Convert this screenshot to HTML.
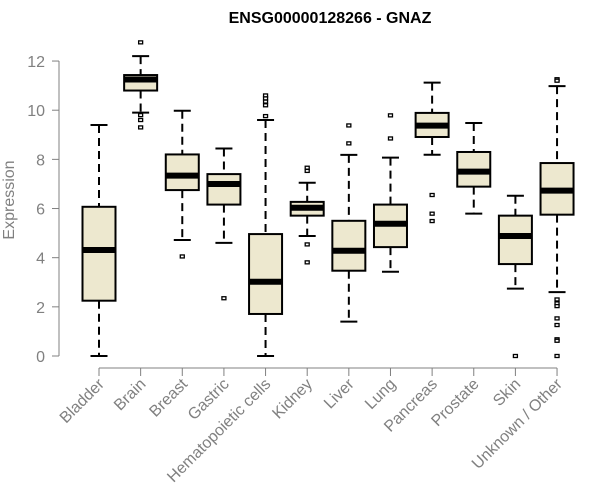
<!DOCTYPE html>
<html><head><meta charset="utf-8"><style>
body{margin:0;background:#fff}
svg{display:block;font-family:"Liberation Sans",sans-serif}
</style></head><body>
<svg id="chart" width="600" height="500">
<text x="330" y="23" text-anchor="middle" font-size="16" font-weight="bold" fill="#000">ENSG00000128266 - GNAZ</text>
<text transform="translate(14,200) rotate(-90)" text-anchor="middle" font-size="16" fill="#808080">Expression</text>
<g id="yaxis"></g>
<g id="xaxis"></g>
<g id="boxes"></g>
</svg>
<script>
const categories=["Bladder","Brain","Breast","Gastric","Hematopoietic cells","Kidney","Liver","Lung","Pancreas","Prostate","Skin","Unknown / Other"];
const lowerWhisker=[0,9.9,4.72,4.6,0,4.88,1.4,3.43,8.19,5.79,2.74,2.6];
const q1=[2.25,10.8,6.75,6.16,1.71,5.71,3.47,4.43,8.91,6.89,3.74,5.75];
const medians=[4.31,11.25,7.34,7.0,3.02,6.03,4.28,5.38,9.37,7.5,4.88,6.73];
const q3=[6.07,11.43,8.2,7.4,4.96,6.27,5.5,6.16,9.89,8.3,5.71,7.85];
const upperWhisker=[9.4,12.2,9.98,8.44,9.6,7.05,8.18,8.07,11.12,9.48,6.52,10.98];
const outliers=[[],[12.76,9.8,9.6,9.3],[4.05],[2.35],[10.6,10.48,10.35,10.2,9.76],[7.66,7.53,4.54,3.81],[9.38,8.65],[9.79,8.85],[6.55,5.79,5.49],[],[0],[11.26,11.2,2.3,2.14,2.03,1.53,1.26,0.68,0.62,0]];
const yTicks=[0,2,4,6,8,10,12];
const NS="http://www.w3.org/2000/svg";
const y=v=>356-v*24.58;
const x=i=>99+i*41.64;
function mk(tag,attrs,parent){const e=document.createElementNS(NS,tag);for(const k in attrs)e.setAttribute(k,attrs[k]);parent.appendChild(e);return e;}
const ya=document.getElementById('yaxis');
let l=mk('line',{x1:59,x2:59,y1:y(12),y2:y(0),stroke:'#808080','stroke-width':1},ya);


yTicks.forEach(t=>{
 const tk=mk('line',{x1:52,x2:59,y1:y(t),y2:y(t),stroke:'#808080'},ya);
 
 
 const tx=mk('text',{x:45,y:y(t)+6,'text-anchor':'end','font-size':16,fill:'#808080'},ya);
 tx.textContent=t;
 
 
});
const xa=document.getElementById('xaxis');
l=mk('line',{x1:x(0),x2:x(categories.length-1),y1:368,y2:368,stroke:'#808080'},xa);


const bx=document.getElementById('boxes');
categories.forEach((c,i)=>{
 const cx=x(i);
 const tk=mk('line',{x1:cx,x2:cx,y1:368,y2:376,stroke:'#808080'},xa);
 
 
 const tx=mk('text',{transform:`translate(${cx+6},${385}) rotate(-45)`,'text-anchor':'end','font-size':16,fill:'#808080'},xa);
 tx.textContent=c;
 
 
 const g=mk('g',{},bx);
 
 
 mk('line',{x1:cx,x2:cx,y1:y(upperWhisker[i]),y2:y(q3[i]),stroke:'#000','stroke-width':2,'stroke-dasharray':'8,5'},g);
 mk('line',{x1:cx,x2:cx,y1:y(q1[i]),y2:y(lowerWhisker[i]),stroke:'#000','stroke-width':2,'stroke-dasharray':'8,5'},g);
 mk('line',{x1:cx-8.5,x2:cx+8.5,y1:y(upperWhisker[i]),y2:y(upperWhisker[i]),stroke:'#000','stroke-width':2},g);
 mk('line',{x1:cx-8.5,x2:cx+8.5,y1:y(lowerWhisker[i]),y2:y(lowerWhisker[i]),stroke:'#000','stroke-width':2},g);
 mk('rect',{x:cx-16.5,y:y(q3[i]),width:33,height:y(q1[i])-y(q3[i]),fill:'#ede8cf',stroke:'#000','stroke-width':2},g);
 mk('line',{x1:cx-16.5,x2:cx+16.5,y1:y(medians[i]),y2:y(medians[i]),stroke:'#000','stroke-width':6},g);
 outliers[i].forEach(o=>{
  const p=mk('rect',{x:cx-2,y:y(o)-1.5,width:4,height:3,fill:'#fff',stroke:'#000','stroke-width':1.3},g);
  
  
 });
});
</script>
</body></html>
